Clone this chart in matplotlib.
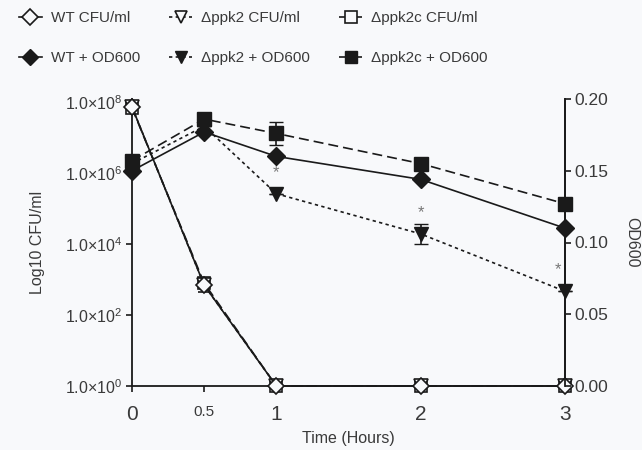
import matplotlib.pyplot as plt
from matplotlib.lines import Line2D

plt.rcParams['font.family'] = ['Liberation Sans', 'DejaVu Sans']
plt.rcParams['mathtext.fontset'] = 'custom'
plt.rcParams['mathtext.rm'] = 'Liberation Sans'

time = [0, 0.5, 1, 2, 3]
time_labels = ['0', '0.5', '1', '2', '3']

# CFU/ml (left axis, log)
wt_cfu = [7.5e7, 7.0e2, 1, 1, 1]
ppk2_cfu = [7.5e7, 7.0e2, 1, 1, 1]
ppk2c_cfu = [7.0e7, 8.0e2, 1, 1, 1]
cfu_err_low = [0, 3.5e2, 0, 0, 0]
cfu_err_high = [0, 1.0e2, 0, 0, 0]

# OD600 (right axis)
wt_od = [0.150, 0.177, 0.160, 0.144, 0.110]
ppk2_od = [0.155, 0.181, 0.134, 0.106, 0.066]
ppk2c_od = [0.157, 0.186, 0.176, 0.155, 0.127]
ppk2_od_err = [0, 0, 0, 0.007, 0]
ppk2c_od_err = [0, 0, 0.008, 0, 0]

# significance stars
star_x = [1, 2, 2.95]
star_od = [0.149, 0.121, 0.081]

cfu_ticks = [1, 1e2, 1e4, 1e6, 1e8]
cfu_labels = [r'1.0$\times$10$^{0}$', r'1.0$\times$10$^{2}$', r'1.0$\times$10$^{4}$',
              r'1.0$\times$10$^{6}$', r'1.0$\times$10$^{8}$']
od_ticks = [0.00, 0.05, 0.10, 0.15, 0.20]

bg = '#f8f9fb'
ink = '#1a1a1a'
txt = '#3a3a3a'

fig = plt.figure(figsize=(6.42, 4.5), dpi=100, facecolor=bg)
ax = fig.add_axes([132 / 642, 1 - 386 / 450, (565 - 132) / 642, (386 - 99) / 450])
ax.set_facecolor('none')
ax2 = ax.twinx()

lw = 1.2
ms = 9.5

# CFU series
ax.errorbar(time, ppk2c_cfu, yerr=[cfu_err_low, cfu_err_high], color=ink, lw=lw,
            ls=(0, (6, 3)), marker='s', ms=ms - 1, mfc=bg, mec=ink, mew=1.2,
            capsize=4, clip_on=False, zorder=3)
ax.errorbar(time, ppk2_cfu, color=ink, lw=lw, ls=(0, (2, 2)), marker='v', ms=ms,
            mfc=bg, mec=ink, mew=1.2, clip_on=False, zorder=3)
ax.errorbar(time, wt_cfu, color=ink, lw=lw, ls='-', marker='D', ms=ms - 1.5,
            mfc=bg, mec=ink, mew=1.2, clip_on=False, zorder=3)

# OD series
ax2.errorbar(time, ppk2c_od, yerr=ppk2c_od_err, color=ink, lw=lw, ls=(0, (6, 3)),
             marker='s', ms=ms, capsize=5, clip_on=False, zorder=3)
ax2.errorbar(time, ppk2_od, yerr=ppk2_od_err, color=ink, lw=lw, ls=(0, (2, 2)),
             marker='v', ms=ms + 1, capsize=5, clip_on=False, zorder=3)
ax2.errorbar(time, wt_od, color=ink, lw=lw, ls='-', marker='D', ms=ms - 0.5,
             clip_on=False, zorder=3)

for x, y in zip(star_x, star_od):
    ax2.text(x, y, '*', ha='center', va='center', fontsize=12, color='#777777')

ax.set_yscale('log')
ax.set_xlim(0, 3)
ax.set_ylim(1, 10 ** 8.1)
ax2.set_ylim(0, 0.20)
ax.minorticks_off()

ax.set_xticks(time)
ax.set_xticklabels(time_labels)
for lab in ax.get_xticklabels():
    lab.set_fontsize(11 if lab.get_text() == '0.5' else 15)
ax.set_yticks(cfu_ticks)
ax.set_yticklabels(cfu_labels, fontsize=11.5)
ax2.set_yticks(od_ticks)
ax2.set_yticklabels(['%.2f' % v for v in od_ticks], fontsize=12.5)

for a in (ax, ax2):
    a.spines['top'].set_visible(False)
    for s in a.spines.values():
        s.set_linewidth(1.3)
        s.set_color(ink)
    a.tick_params(direction='out', length=4, width=1.2, colors=ink, labelcolor=txt, pad=3)
ax.tick_params(axis='x', pad=10)
ax2.spines['left'].set_visible(False)
ax2.spines['bottom'].set_visible(False)

ax.set_xlabel('Time (Hours)', fontsize=11.5, color=txt, labelpad=5)
ax.set_ylabel('Log10 CFU/ml', fontsize=11.5, color=txt, labelpad=14)
ax2.set_ylabel('OD600', fontsize=11.5, color=txt, rotation=270, labelpad=22)

handles = [
    Line2D([], [], color=ink, lw=lw, ls='-', marker='D', ms=8, mfc=bg, mew=1.2),
    Line2D([], [], color=ink, lw=lw, ls='-', marker='D', ms=8),
    Line2D([], [], color=ink, lw=lw, ls=(0, (2, 2)), marker='v', ms=9, mfc=bg, mew=1.2),
    Line2D([], [], color=ink, lw=lw, ls=(0, (2, 2)), marker='v', ms=9),
    Line2D([], [], color=ink, lw=lw, ls=(0, (6, 3)), marker='s', ms=8, mfc=bg, mew=1.2),
    Line2D([], [], color=ink, lw=lw, ls=(0, (6, 3)), marker='s', ms=8),
]
labels = ['WT CFU/ml', 'WT + OD600', '\u0394ppk2 CFU/ml', '\u0394ppk2 + OD600',
          '\u0394ppk2c CFU/ml', '\u0394ppk2c + OD600']
fig.legend(handles, labels, ncol=3, loc='upper left', bbox_to_anchor=(0.008, 1.006),
           frameon=False, fontsize=11, handlelength=1.5, handletextpad=0.6,
           columnspacing=1.9, labelspacing=1.7, labelcolor=txt)

fig.savefig('out.png', dpi=100, facecolor=bg)
